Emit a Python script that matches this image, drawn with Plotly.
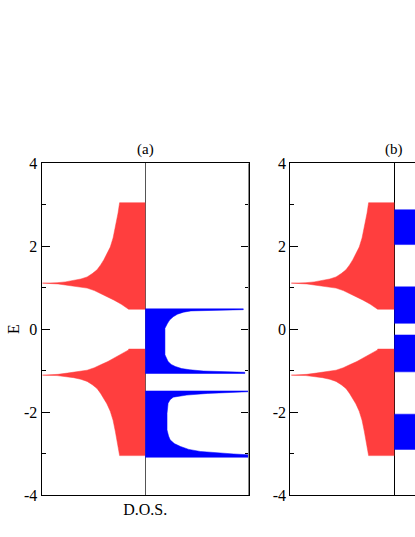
import plotly.graph_objects as go

# ---- data ----
# red DOS, upper band: energies and DOS (drawn to the left of the centre line)
red_up_E   = [3.05, 3.05, 2.80, 2.47, 2.20, 1.98, 1.80, 1.67, 1.55, 1.43, 1.34, 1.26, 1.21, 1.17, 1.14, 1.12, 1.11,
              1.09, 1.06, 1.03, 0.99, 0.93, 0.86, 0.78, 0.70, 0.60, 0.50, 0.48, 0.48]
red_up_dos = [0.0, 0.247, 0.262, 0.288, 0.31, 0.337, 0.37, 0.40, 0.43, 0.465, 0.51, 0.56, 0.62, 0.69, 0.77, 0.85, 0.99,
              0.84, 0.75, 0.65, 0.56, 0.49, 0.43, 0.36, 0.30, 0.23, 0.16, 0.16, 0.0]
# red DOS, lower band
red_lo_E   = [-0.48, -0.48, -0.50, -0.60, -0.70, -0.78, -0.86, -0.93, -0.99, -1.03, -1.06, -1.09, -1.11,
              -1.12, -1.14, -1.17, -1.21, -1.26, -1.34, -1.43, -1.55, -1.67, -1.80, -1.98, -2.20, -2.47, -2.80, -3.05, -3.05]
red_lo_dos = [0.0, 0.16, 0.16, 0.23, 0.30, 0.36, 0.43, 0.49, 0.56, 0.65, 0.75, 0.84, 0.99,
              0.85, 0.77, 0.69, 0.62, 0.56, 0.51, 0.465, 0.43, 0.40, 0.37, 0.337, 0.31, 0.288, 0.262, 0.247, 0.0]

# blue DOS, panel (a), upper band
blue_a1_E   = [0.49, 0.49, 0.47, 0.46, 0.455, 0.44, 0.41, 0.36, 0.30, 0.22, 0.14, 0.02, -0.62, -0.72, -0.78, -0.85,
               -0.90, -0.95, -0.98, -1.01, -1.02, -1.04, -1.07, -1.07]
blue_a1_dos = [0.0, 0.945, 0.945, 0.70, 0.53, 0.44, 0.37, 0.31, 0.27, 0.235, 0.215, 0.19, 0.19, 0.205, 0.22, 0.25,
               0.29, 0.35, 0.43, 0.56, 0.69, 0.96, 0.96, 0.0]
# blue DOS, panel (a), lower band
blue_a2_E   = [-1.49, -1.49, -1.51, -1.55, -1.59, -1.64, -1.70, -1.79, -2.03, -2.43, -2.58, -2.67, -2.76, -2.83,
               -2.90, -2.95, -3.01, -3.03, -3.09, -3.09]
blue_a2_dos = [0.0, 0.99, 0.99, 0.60, 0.40, 0.27, 0.24, 0.22, 0.21, 0.21, 0.225, 0.24, 0.28, 0.34,
               0.42, 0.53, 0.85, 0.99, 0.99, 0.0]

# blue DOS, panel (b): four bands (top, bottom) and DOS profile
blue_b_tops    = [2.88, 1.02, -0.14, -2.05]
blue_b_bottoms = [2.04, 0.14, -1.03, -2.90]
blue_b_profile = [0.0, 0.9, 0.45, 0.35, 0.35, 0.45, 0.9, 0.0]

ytick_vals = [-4, -2, 0, 2, 4]
ytick_text = ["-4", "-2", "0", "2", "4"]
yminor_vals = [-3, -1, 1, 3]
panel_titles = ["(a)", "(b)"]

RED = "rgb(255,62,62)"
BLUE = "rgb(0,0,255)"
FONT = "Liberation Serif"

fig = go.Figure()

def band(E, dos, color, xa, ya, sign):
    fig.add_trace(go.Scatter(
        x=[sign * d for d in dos], y=E, mode="lines", fill="toself",
        fillcolor=color, line=dict(color=color, width=0.5),
        xaxis=xa, yaxis=ya, hoverinfo="skip", showlegend=False))

# panel (a)
band(red_up_E, red_up_dos, RED, "x", "y", -1)
band(red_lo_E, red_lo_dos, RED, "x", "y", -1)
band(blue_a1_E, blue_a1_dos, BLUE, "x", "y", 1)
band(blue_a2_E, blue_a2_dos, BLUE, "x", "y", 1)

# panel (b)
band(red_up_E, red_up_dos, RED, "x2", "y2", -1)
band(red_lo_E, red_lo_dos, RED, "x2", "y2", -1)
for top, bot in zip(blue_b_tops, blue_b_bottoms):
    n = len(blue_b_profile)
    Es = [top] + [top - (top - bot) * i / (n - 3) for i in range(n - 2)] + [bot]
    band(Es, blue_b_profile, BLUE, "x2", "y2", 1)

W, H = 415, 537
ydom = [(H - 495) / H, (H - 163.3) / H]

common_y = dict(range=[-4, 4], tickvals=ytick_vals, ticktext=ytick_text,
                ticks="inside", ticklen=8, tickcolor="black", tickwidth=1,
                showline=True, linecolor="black", linewidth=1,
                showgrid=False, zeroline=False, automargin=False,
                minor=dict(tickvals=yminor_vals, ticks="inside", ticklen=4,
                           tickcolor="black", tickwidth=1, showgrid=False),
                tickfont=dict(family=FONT, size=16, color="black"))

fig.update_layout(
    template="none",
    width=W, height=H, autosize=False,
    margin=dict(l=0, r=0, t=0, b=0, pad=0),
    paper_bgcolor="white", plot_bgcolor="white",
    font=dict(family=FONT, size=15, color="black"),
    xaxis=dict(domain=[41.5 / W, 249 / W], range=[-1, 1], anchor="y", automargin=False,
               showline=True, linecolor="black", linewidth=1, mirror=True,
               tickvals=[0], ticktext=["D.O.S."], ticks="",
               tickfont=dict(family=FONT, size=16, color="black"),
               showgrid=False, zeroline=True, zerolinecolor="#555", zerolinewidth=1),
    yaxis=dict(domain=ydom, anchor="x", mirror="ticks",
               title=dict(text="E", font=dict(family=FONT, size=16, color="black"), standoff=0),
               **common_y),
    xaxis2=dict(domain=[290.3 / W, 1.0], range=[-1, (W - 394.3) / 104], anchor="y2", automargin=False,
                showline=True, linecolor="black", linewidth=1, mirror=True,
                tickvals=[0], ticktext=["D.O.S."], ticks="",
                tickfont=dict(family=FONT, size=16, color="black"),
                showgrid=False, zeroline=True, zerolinecolor="black", zerolinewidth=1),
    yaxis2=dict(domain=ydom, anchor="x2", mirror=False, **common_y),
    shapes=[dict(type="line", xref="x", yref="y", x0=1, x1=1, y0=-4, y1=4,
                 line=dict(color="#8a8a8a", width=2), layer="above")],
    annotations=[
        dict(text=panel_titles[0], xref="x", x=0, yref="paper", y=(H - 149) / H,
             xanchor="center", yanchor="middle",
             showarrow=False, font=dict(family=FONT, size=15, color="black")),
        dict(text=panel_titles[1], xref="x2", x=0, yref="paper", y=(H - 149) / H,
             xanchor="center", yanchor="middle",
             showarrow=False, font=dict(family=FONT, size=15, color="black")),
    ],
)

fig.write_html("out.html", config={"responsive": False, "displayModeBar": False},
               post_script="document.body.style.margin='0';document.body.style.overflow='hidden';")
